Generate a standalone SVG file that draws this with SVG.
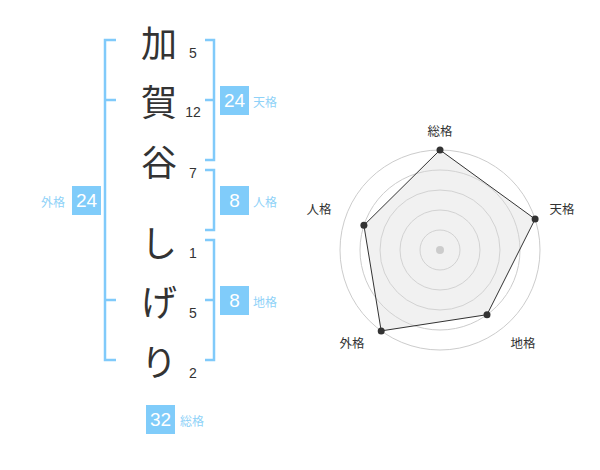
<svg xmlns="http://www.w3.org/2000/svg" width="600" height="470" viewBox="0 0 600 470">
<style>
.bk{fill:none;stroke:#80cafa;stroke-width:2.5}
.ch{font-family:"Noto Sans CJK JP",sans-serif;font-size:36px;fill:#333;text-anchor:middle;dominant-baseline:central}
.num{font-family:"Liberation Sans",Arial,sans-serif;font-size:14px;fill:#333;text-anchor:middle;dominant-baseline:central}
.box{fill:#80ccfa}
.bn{font-family:"Liberation Sans",Arial,sans-serif;font-size:19px;fill:#fff;text-anchor:middle;dominant-baseline:central}
.bl{font-family:"Noto Sans CJK JP",sans-serif;font-size:12px;fill:#8fd2f8;dominant-baseline:central}
.ring{fill:none;stroke:#cccccc;stroke-width:1}
.ax{font-family:"Noto Sans CJK JP",sans-serif;font-size:12.5px;fill:#333;text-anchor:middle;dominant-baseline:central}
.pt{fill:#333}
</style>
<rect width="600" height="470" fill="#fff"/>
<g id="connectors">
<path class="bk" d="M116,40 H105 V360 H116 M105,100 H116 M105,300 H116"/>
<path class="bk" d="M205,40 H214 V160 H205 M205,100 H214"/>
<path class="bk" d="M205,170 H214 V230 H205"/>
<path class="bk" d="M205,240 H214 V360 H205 M205,300 H214"/>
</g>
<g id="name">
<g id="c1"><text class="ch" x="159" y="41">加</text><text class="num" x="193" y="53">5</text></g>
<g id="c2"><text class="ch" x="159" y="100">賀</text><text class="num" x="193" y="112">12</text></g>
<g id="c3"><text class="ch" x="159" y="160">谷</text><text class="num" x="193" y="173">7</text></g>
<g id="c4"><text class="ch" x="159" y="241">し</text><text class="num" x="193" y="253">1</text></g>
<g id="c5"><text class="ch" x="159" y="300">げ</text><text class="num" x="193" y="313">5</text></g>
<g id="c6"><text class="ch" x="159" y="360">り</text><text class="num" x="193" y="373">2</text></g>
</g>
<g id="tenkaku"><rect class="box" x="220" y="86" width="29" height="29"/><text class="bn" x="234.5" y="100.5">24</text><text class="bl" x="253" y="101">天格</text></g>
<g id="jinkaku"><rect class="box" x="220" y="186" width="29" height="29"/><text class="bn" x="234.5" y="200.5">8</text><text class="bl" x="253" y="201">人格</text></g>
<g id="chikaku"><rect class="box" x="220" y="286" width="29" height="29"/><text class="bn" x="234.5" y="300.5">8</text><text class="bl" x="253" y="301">地格</text></g>
<g id="gaikaku"><rect class="box" x="72" y="186" width="29" height="29"/><text class="bn" x="86.5" y="200.5">24</text><text class="bl" x="41" y="201">外格</text></g>
<g id="soukaku"><rect class="box" x="146" y="405" width="29" height="29"/><text class="bn" x="160.5" y="419.5">32</text><text class="bl" x="180" y="420">総格</text></g>
<g id="radar">
<circle class="ring" cx="440" cy="250" r="20"/>
<circle class="ring" cx="440" cy="250" r="40"/>
<circle class="ring" cx="440" cy="250" r="60"/>
<circle class="ring" cx="440" cy="250" r="80"/>
<circle class="ring" cx="440" cy="250" r="100"/>
<polygon points="440,150 535.1,219.1 487,314.7 381.2,330.9 363.9,225.3" fill="#dcdcdc" fill-opacity="0.4" stroke="#333" stroke-width="1"/>
<circle cx="440" cy="250" r="4" fill="#cccccc"/>
<circle class="pt" cx="440" cy="150" r="3.5"/>
<circle class="pt" cx="535.1" cy="219.1" r="3.5"/>
<circle class="pt" cx="487" cy="314.7" r="3.5"/>
<circle class="pt" cx="381.2" cy="330.9" r="3.5"/>
<circle class="pt" cx="363.9" cy="225.3" r="3.5"/>
<text class="ax" x="440" y="130">総格</text>
<text class="ax" x="562" y="208">天格</text>
<text class="ax" x="523" y="342">地格</text>
<text class="ax" x="352" y="342">外格</text>
<text class="ax" x="319" y="208">人格</text>
</g>
</svg>
